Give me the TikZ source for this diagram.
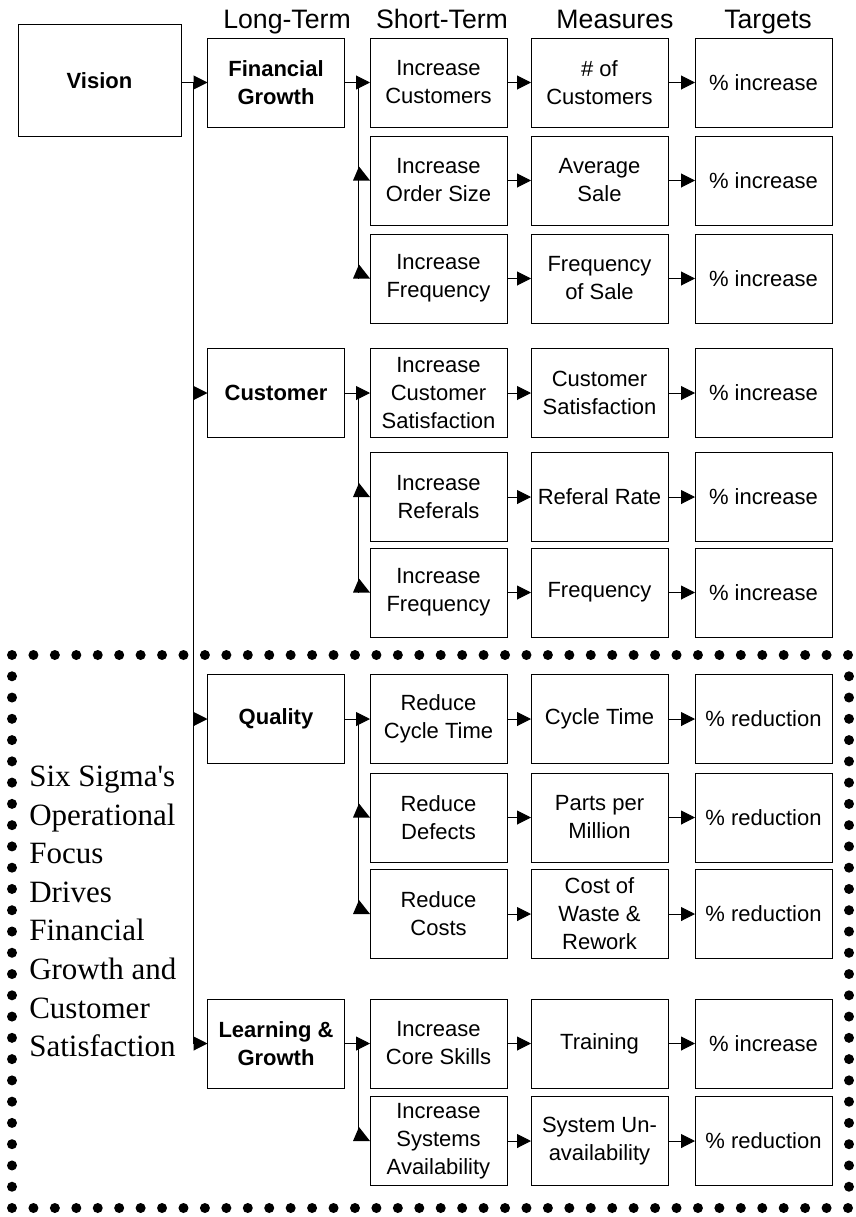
\documentclass[tikz,border=0pt]{standalone}
\usepackage{fontspec}
\setmainfont{Liberation Serif}
\setsansfont{Liberation Sans}
\usetikzlibrary{arrows.meta,calc}
% small filled wedge where a branch line meets a box
\newcommand\forktip[1]{\fill ($(#1.west)+(-17,0)$) -- (#1.west) -- ($(#1.west)+(-11,-14)$) -- cycle;}
\begin{document}
\begin{tikzpicture}[x=0.75pt,y=-0.75pt,
  box/.style={draw, line width=0.75pt, inner sep=0pt, outer sep=0pt,
    minimum width=102.75pt, minimum height=66.75pt, align=center,
    font=\sffamily\fontsize{16.5}{21}\selectfont},
  lead/.style={box, font=\sffamily\bfseries\fontsize{16.5}{21}\selectfont},
  head/.style={anchor=base, inner sep=0pt, font=\sffamily\fontsize{20}{24}\selectfont},
  link/.style={line width=0.75pt, -{Triangle[length=10.5pt,width=10.5pt]}},
  wire/.style={line width=0.75pt},
  dot/.style={fill=black}]
\useasboundingbox (0,0) rectangle (856,1217);

% column headings
\node[head] (hl) at (287,28) {Long-Term};
\node[head] (hs) at (442,28) {Short-Term};
\node[head] (hm) at (615,28) {Measures};
\node[head] (ht) at (768,28) {Targets};

% vision
\node[lead, minimum width=122.25pt, minimum height=84pt] (vision) at (99.5,80.5) {Vision};

% long-term goals
\node[lead] (fin) at (276,82.5) {Financial\\Growth};
\node[lead] (cus) at (276,393) {Customer};
\node[lead] (qua) at (276,719) {Quality};
\node[lead] (lrn) at (276,1043.5) {Learning \&\\Growth};

% short-term goals
\node[box] (f1) at (438.5,82.5) {Increase\\Customers};
\node[box] (f2) at (438.5,180.5) {Increase\\Order Size};
\node[box] (f3) at (438.5,278.5) {Increase\\Frequency};
\node[box] (c1) at (438.5,393) {Increase\\Customer\\Satisfaction};
\node[box] (c2) at (438.5,497) {Increase\\Referals};
\node[box] (c3) at (438.5,592.5) {Increase\\Frequency};
\node[box] (q1) at (438.5,719) {Reduce\\Cycle Time};
\node[box] (q2) at (438.5,817.5) {Reduce\\Defects};
\node[box] (q3) at (438.5,914) {Reduce\\Costs};
\node[box] (l1) at (438.5,1043.5) {Increase\\Core Skills};
\node[box] (l2) at (438.5,1141) {Increase\\Systems\\Availability};

% measures
\node[box] (mf1) at (599.5,82.5) {\# of\\Customers};
\node[box] (mf2) at (599.5,180.5) {Average\\Sale};
\node[box] (mf3) at (599.5,278.5) {Frequency\\of Sale};
\node[box] (mc1) at (599.5,393) {Customer\\Satisfaction};
\node[box] (mc2) at (599.5,497) {Referal Rate};
\node[box] (mc3) at (599.5,592.5) {Frequency};
\node[box] (mq1) at (599.5,719) {Cycle Time};
\node[box] (mq2) at (599.5,817.5) {Parts per\\Million};
\node[box] (mq3) at (599.5,914) {Cost of\\Waste \&\\Rework};
\node[box] (ml1) at (599.5,1043.5) {Training};
\node[box] (ml2) at (599.5,1141) {System Un-\\availability};

% targets
\foreach \r/\t/\y in {f1/increase/82.5, f2/increase/180.5, f3/increase/278.5,
                      c1/increase/393, c2/increase/497, c3/increase/592.5,
                      q1/reduction/719, q2/reduction/817.5, q3/reduction/914,
                      l1/increase/1043.5, l2/reduction/1141}
  \node[box] (t\r) at (763.5,\y) {\% \t};

% row arrows: goal -> measure -> target
\foreach \r in {f1,f2,f3,c1,c2,c3,q1,q2,q3,l1,l2} {
  \draw[link] (\r.east) -- (m\r.west);
  \draw[link] (m\r.east) -- (t\r.west);
}

% vision trunk
\coordinate (vt) at ($(vision.east |- fin.west)+(12,0)$);
\draw[link] (vision.east |- fin.west) -- (fin.west);
\draw[wire] (vt) -- (vt |- lrn.west);
\draw[link] (vt |- cus.west) -- (cus.west);
\draw[link] (vt |- qua.west) -- (qua.west);
\draw[link] (vt |- lrn.west) -- (lrn.west);

% branches from each long-term goal
\coordinate (bf) at ($(fin.east)+(14,0)$);
\draw[link] (fin.east) -- (f1.west);
\draw[wire] (bf) -- (bf |- f3.west);
\forktip{f2}\forktip{f3}

\coordinate (bc) at ($(cus.east)+(14,0)$);
\draw[link] (cus.east) -- (c1.west);
\draw[wire] (bc) -- (bc |- c3.west);
\forktip{c2}\forktip{c3}

\coordinate (bq) at ($(qua.east)+(14,0)$);
\draw[link] (qua.east) -- (q1.west);
\draw[wire] (bq) -- (bq |- q3.west);
\forktip{q2}\forktip{q3}

\coordinate (bl) at ($(lrn.east)+(14,0)$);
\draw[link] (lrn.east) -- (l1.west);
\draw[wire] (bl) -- (bl |- l2.west);
\forktip{l2}

% dotted frame round the operational part
\foreach \i in {0,...,39} {
  \fill[dot] ({12+\i*21.4359},655) circle[radius=3.75pt];
  \fill[dot] ({12+\i*21.4359},1208) circle[radius=3.75pt];
}
\foreach \j in {1,...,25} {
  \fill[dot] (12,{655+\j*21.2692}) circle[radius=3.75pt];
  \fill[dot] (849,{655+\j*21.2692}) circle[radius=3.75pt];
}

% side note
\node[anchor=north west, inner sep=0pt, align=left,
      font=\rmfamily\fontsize{23.25}{28.9}\selectfont] (note) at (29,766)
  {Six Sigma\textquotesingle s\\Operational\\Focus\\Drives\\Financial\\Growth and\\Customer\\Satisfaction};
\end{tikzpicture}
\end{document}
